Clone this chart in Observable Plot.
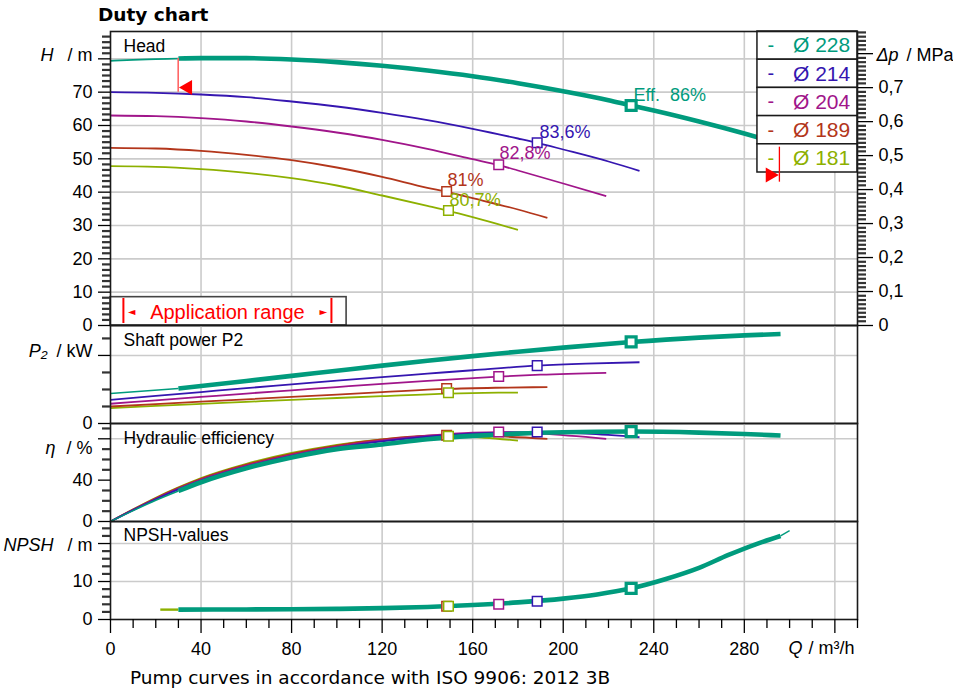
<!DOCTYPE html>
<html><head><meta charset="utf-8">
<script src="https://cdn.jsdelivr.net/npm/d3@7"></script>
<script src="https://cdn.jsdelivr.net/npm/@observablehq/plot@0.6"></script>
<style>
body{margin:0;background:#fff;}
#wrap{position:relative;width:953px;height:693px;overflow:hidden;font-family:"Liberation Sans",Arial,sans-serif;}
#title{position:absolute;left:98px;top:6px;font:bold 18.5px/1 "DejaVu Sans",Verdana,sans-serif;color:#000;}
#caption{position:absolute;left:130px;top:669px;font:18.5px/1 "DejaVu Sans",Verdana,sans-serif;color:#000;white-space:nowrap;}
</style></head><body>
<div id="wrap"><div id="title">Duty chart</div><div id="caption">Pump curves in accordance with ISO 9906: 2012 3B</div></div>
<script>
// ---------- data ----------
const diameters = [228, 214, 204, 189, 181];
const colors = ["#009b7d", "#3516b0", "#a0158a", "#b3361b", "#8db000"];
const effLabels = ["Eff.  86%", "83,6%", "82,8%", "81%", "80,7%"];
const effLabelQ = [231, 189.5, 171.8, 148.9, 149.8];
const effLabelH = [69.15, 57.9, 51.75, 43.5, 37.65];

const bepQ = [230, 188.5, 171.5, 148.5, 149.3];
const bepHead = [66.0, 54.8, 48.2, 40.2, 34.5];
const bepPower = [48.0, 34.0, 27.6, 20.6, 18.1];
const bepEff = [87.0, 86.5, 86.5, 83.5, 82.5];
const bepNpsh = [8.2, 4.8, 4.0, 3.5, 3.5];

const head228 = [[0,79.4],[10,79.7],[20,79.9],[30,80.1],[40,80.2],[60,80.2],[80,79.8],[100,79.0],[120,77.9],[140,76.5],[160,74.8],[180,72.7],[200,70.3],[220,67.6],[230,66.0],[240,64.5],[260,61.2],[280,57.6],[296,54.5]];
const head214 = [[0,70.0],[20,69.8],[40,69.3],[60,68.5],[80,67.2],[100,65.7],[120,63.8],[140,61.6],[160,59.0],[180,56.1],[188.5,54.8],[200,52.8],[220,49.2],[233.7,46.4]];
const head204 = [[0,63.0],[20,62.8],[40,62.2],[60,61.2],[80,59.7],[100,57.9],[120,55.7],[140,53.0],[160,49.9],[171.5,48.1],[180,46.5],[200,42.6],[219,38.8]];
const head189 = [[0,53.3],[20,53.1],[40,52.4],[60,51.2],[80,49.6],[100,47.4],[120,44.6],[140,41.3],[148.5,40.1],[160,38.2],[180,34.8],[193,32.3]];
const head181 = [[0,47.8],[20,47.6],[40,46.9],[60,45.8],[80,44.2],[100,42.0],[120,39.0],[140,35.9],[149.3,34.4],[160,32.5],[180,28.7]];

const power228 = [[0,17.6],[30,20.6],[60,25.0],[80,28.0],[100,31.0],[120,34.0],[140,36.9],[160,39.6],[180,42.2],[200,44.6],[230,47.9],[260,50.5],[280,51.8],[296,52.6]];
const power214 = [[0,13.9],[20,16.2],[40,18.5],[60,20.8],[80,23.0],[100,25.2],[120,27.3],[140,29.3],[160,31.3],[188.5,34.0],[210,35.2],[233.7,36.0]];
const power204 = [[0,11.6],[20,13.6],[40,15.6],[60,17.6],[80,19.5],[100,21.4],[120,23.3],[140,25.1],[171.5,27.6],[190,28.7],[219,29.8]];
const power189 = [[0,10.0],[20,11.4],[40,12.8],[60,14.2],[80,15.6],[100,17.0],[120,18.4],[148.5,20.3],[170,21.0],[193,21.4]];
const power181 = [[0,9.0],[20,10.3],[40,11.5],[60,12.7],[80,13.9],[100,15.0],[120,16.1],[149.3,17.6],[165,18.0],[180,18.2]];

const eff228 = [[0,0],[10,10.5],[20,20.5],[30,29.5],[40,38],[60,51.5],[80,62],[100,70],[120,74.5],[140,79.5],[160,82.8],[180,85],[200,86.3],[230,87],[260,86],[280,84.6],[296,83.2]];
const eff214 = [[0,0],[10,11],[20,21.5],[30,31],[40,39.5],[60,53],[80,63.5],[100,71.5],[120,77.5],[140,82],[160,85],[188.5,86.5],[210,85],[233.7,81.5]];
const eff204 = [[0,0],[10,11.3],[20,22],[30,31.8],[40,40.5],[60,54],[80,64.5],[100,72.5],[120,78.5],[140,83],[160,86],[171.5,86.5],[190,85],[219,80]];
const eff189 = [[0,0],[10,11.6],[20,22.5],[30,32.5],[40,41.3],[60,55],[80,65.5],[100,73.5],[120,79.5],[148.5,83.5],[170,82.5],[193,80]];
const eff181 = [[0,0],[10,11.8],[20,23],[30,33],[40,42],[60,55.8],[80,66.3],[100,74.2],[120,79.5],[149.3,82.5],[165,81],[180,78.3]];

const npsh = [[30,2.6],[60,2.65],[80,2.7],[100,2.8],[120,3.0],[140,3.3],[160,3.8],[180,4.5],[200,5.5],[215,6.6],[230,8.2],[245,10.6],[260,13.6],[273,17.0],[285,19.8],[296,22.0]];
const npshTail = [[296,22.0],[300,23.4]];
const npshStart181 = [[22,2.6],[30,2.6]];

const appRange = {q1: 5.7, q2: 97.6, boxQ: 104.3, boxH: 8.5};
const minFlow = {q: 29.9, h1: 70, h2: 80.1, tri: 71.4};
const maxFlow = {q: 295.5, h1: 43, h2: 53.5, tri: 45.15};

const xMajor = [0, 40, 80, 120, 160, 200, 240, 280, 320];
const xLabels = ["0", "40", "80", "120", "160", "200", "240", "280"];
const headMajor = [0, 10, 20, 30, 40, 50, 60, 70, 80];
const dpMajor = [0, 0.1, 0.2, 0.3, 0.4, 0.5, 0.6, 0.7, 0.8];
const RHO_G = 101.94; // m of water per MPa

// ---------- layout ----------
const FONT = "Liberation Sans, Arial, Helvetica, sans-serif";
const GRID = "#cbcbcb";
const FRAME = "#1a1a1a";
const X_DOMAIN = [0, 330];
const xGrid = xMajor.filter(v => v > 0);
const xMinor = d3.range(0, 331, 10).filter(v => v % 40 !== 0);
const wrap = document.getElementById("wrap");

function panel({height, top, mt, mb, yDomain, marks}) {
  const svg = Plot.plot({
    width: 953, height, marginLeft: 110, marginRight: 96, marginTop: mt, marginBottom: mb,
    x: {domain: X_DOMAIN, axis: null}, y: {domain: yDomain, axis: null},
    style: {fontFamily: FONT, fontSize: "18px", background: "transparent", overflow: "visible", color: "#000"},
    marks
  });
  svg.style.position = "absolute"; svg.style.left = "0px"; svg.style.top = top + "px";
  wrap.appendChild(svg);
}
const lineOpts = (stroke, w) => ({x: d => d[0], y: d => d[1], stroke, strokeWidth: w, curve: "monotone-x", strokeLinejoin: "round", strokeLinecap: "butt"});
function seriesMarks(list) {
  const out = [];
  for (let i = list.length - 1; i >= 1; i--) out.push(Plot.line(list[i], lineOpts(colors[i], 1.8)));
  const t = list[0];
  out.push(Plot.line(t.filter(p => p[0] <= 30), lineOpts(colors[0], 1.6)));
  out.push(Plot.line(t.filter(p => p[0] >= 30), lineOpts(colors[0], 4.6)));
  return out;
}
function markerMarks(vals) {
  return bepQ.map((q, i) => Plot.dot([[q, vals[i]]], {x: d => d[0], y: d => d[1], symbol: "square",
    r: i === 0 ? 5.6 : 5.4, fill: "white", stroke: colors[i], strokeWidth: i === 0 ? 3.2 : 1.5}));
}
function gridY(vals) { return Plot.gridY(vals, {stroke: GRID, strokeOpacity: 1, strokeWidth: 1.6}); }
const gridXMark = () => Plot.gridX(xGrid, {stroke: GRID, strokeOpacity: 1, strokeWidth: 1.6});
function leftAxis(major, fmt, minor) {
  return [
    Plot.axisY({anchor: "left", ticks: major, tickSize: 12, tickPadding: 6, tickFormat: fmt, fontSize: 18, label: null, strokeWidth: 1.3}),
    Plot.axisY({anchor: "left", ticks: minor, tickSize: 8, tickPadding: 0, tickFormat: () => "", label: null, strokeWidth: 2.2, stroke: "#333"})
  ];
}
function unitLabel(yv, italic, italicDx, rest) {
  return [
    Plot.text([yv], {y: d => d, frameAnchor: "left", dx: italicDx, textAnchor: "end", text: () => italic, fontStyle: "italic", fontSize: 18}),
    Plot.text([yv], {y: d => d, frameAnchor: "left", dx: -18, textAnchor: "end", text: () => rest, fontSize: 18})
  ];
}
function panelTitle(t, dy) {
  return Plot.text([t], {text: d => d, frameAnchor: "top-left", dx: 13, dy, textAnchor: "start", lineAnchor: "middle", fontSize: 17.5});
}
const frameMark = () => Plot.frame({stroke: FRAME, strokeWidth: 1.6});

// ---------- Head ----------
const HEAD_TOP = 88.2;
const rowH = 8.46;
const headMinor = d3.range(0, HEAD_TOP, 10 / 6).filter(v => Math.abs(v / 10 - Math.round(v / 10)) > 1e-6);
const dpMinor = d3.range(0, 0.866, 0.0125).filter(v => Math.abs(v * 10 - Math.round(v * 10)) > 1e-6);
const legendMarks = [];
diameters.forEach((d, i) => {
  const y1 = HEAD_TOP - (i + 1) * rowH, y2 = HEAD_TOP - i * rowH;
  legendMarks.push(Plot.rect([d], {x1: 285.8, x2: 330, y1: () => y1, y2: () => y2, fill: "white", stroke: FRAME, strokeWidth: 1.5}));
  legendMarks.push(Plot.text([d], {x: () => 290.2, y: () => (y1 + y2) / 2, text: () => "-", fill: colors[i], fontSize: 20, textAnchor: "start"}));
  legendMarks.push(Plot.text([d], {x: () => 301.5, y: () => (y1 + y2) / 2, text: d => "Ø " + d, fill: colors[i], fontSize: 21, textAnchor: "start"}));
});
panel({
  height: 326, top: 0, mt: 31, mb: 1, yDomain: [0, HEAD_TOP],
  marks: [
    gridXMark(), gridY(headMajor),
    Plot.rect([appRange], {x1: 0, x2: d => d.boxQ, y1: 0, y2: d => d.boxH, fill: "white", stroke: "#444", strokeWidth: 1.6}),
    Plot.ruleX([appRange.q1, appRange.q2], {x: d => d, y1: 0.6, y2: 8.1, stroke: "#ff0000", strokeWidth: 2}),
    Plot.text(["Application range"], {x: () => (appRange.q1 + appRange.q2) / 2, y: () => 3.9, text: d => d, fill: "#ff0000", fontSize: 20}),
    Plot.text(["◄"], {x: () => appRange.q1 + 3.6, y: () => 4.1, text: d => d, fill: "#ff0000", fontSize: 10, fontFamily: "DejaVu Sans"}),
    Plot.text(["►"], {x: () => appRange.q2 - 3.6, y: () => 4.1, text: d => d, fill: "#ff0000", fontSize: 10, fontFamily: "DejaVu Sans"}),
    ...seriesMarks([head228, head214, head204, head189, head181]),
    ...markerMarks(bepHead),
    ...effLabels.map((t, i) => Plot.text([t], {x: () => effLabelQ[i], y: () => effLabelH[i], text: d => d, fill: colors[i], fontSize: 18, textAnchor: "start"})),
    ...legendMarks,
    Plot.ruleX([minFlow], {x: "q", y1: "h1", y2: "h2", stroke: "#ff5c5c", strokeWidth: 1.5}),
    Plot.dot([minFlow], {x: "q", y: "tri", dx: 9.5, symbol: "triangle", rotate: -90, r: 5.6, fill: "#ff0000", stroke: "none"}),
    Plot.ruleX([maxFlow], {x: "q", y1: "h1", y2: "h2", stroke: "#ff0000", strokeWidth: 1.3}),
    Plot.dot([maxFlow], {x: "q", y: "tri", dx: -9.3, symbol: "triangle", rotate: 90, r: 5.6, fill: "#ff0000", stroke: "none"}),
    frameMark(),
    ...leftAxis(headMajor, d => d >= 80 ? "" : String(d), headMinor),
    Plot.axisY({anchor: "right", ticks: dpMajor.map(p => p * RHO_G), tickSize: 15, tickPadding: 6,
      tickFormat: h => { const p = Math.round(h / RHO_G * 10) / 10; return p >= 0.8 ? "" : String(p).replace(".", ","); },
      fontSize: 18, label: null, strokeWidth: 1.3}),
    Plot.axisY({anchor: "right", ticks: dpMinor.map(p => p * RHO_G), tickSize: 8, tickPadding: 0, tickFormat: () => "", label: null, strokeWidth: 2.2, stroke: "#333"}),
    ...unitLabel(81, "H", -57, "/ m"),
    Plot.text([81], {y: d => d, frameAnchor: "right", dx: 19, textAnchor: "start", text: () => "Δp", fontStyle: "italic", fontSize: 18}),
    Plot.text([81], {y: d => d, frameAnchor: "right", dx: 49, textAnchor: "start", text: () => "/ MPa", fontSize: 18}),
    panelTitle("Head", 15)
  ]
});

// ---------- Shaft power ----------
panel({
  height: 104, top: 320, mt: 5, mb: 1, yDomain: [0, 57.6],
  marks: [
    gridXMark(), gridY([40]),
    ...seriesMarks([power228, power214, power204, power189, power181]),
    ...markerMarks(bepPower),
    frameMark(),
    ...leftAxis([0, 40], d => d === 0 ? "0" : "", [10, 20, 30, 50]),
    ...unitLabel(42.4, "P₂", -63, "/ kW"),
    panelTitle("Shaft power P2", 15)
  ]
});

// ---------- Hydraulic efficiency ----------
panel({
  height: 104, top: 418, mt: 5, mb: 1, yDomain: [0, 94.8],
  marks: [
    gridXMark(), gridY([80]),
    ...seriesMarks([eff228, eff214, eff204, eff189, eff181]),
    ...markerMarks(bepEff),
    frameMark(),
    ...leftAxis([0, 40, 80], d => d === 80 ? "" : String(d), [10, 20, 30, 50, 60, 70, 90]),
    ...unitLabel(70.6, "η", -55, "/ %"),
    panelTitle("Hydraulic efficiency", 15)
  ]
});

// ---------- NPSH ----------
panel({
  height: 163, top: 516, mt: 5, mb: 60, yDomain: [0, 25.8],
  marks: [
    gridXMark(), gridY([10, 20]),
    Plot.line(npshStart181, lineOpts(colors[4], 2.4)),
    Plot.line(npshTail, lineOpts(colors[0], 1.4)),
    Plot.line(npsh, lineOpts(colors[0], 4.6)),
    ...markerMarks(bepNpsh),
    frameMark(),
    ...leftAxis([0, 10, 20], d => d === 20 ? "" : String(d), [2, 4, 6, 8, 12, 14, 16, 18, 22, 24]),
    ...unitLabel(19.5, "NPSH", -57, "/ m"),
    Plot.axisX({anchor: "bottom", ticks: xMajor, tickSize: 14, tickPadding: 8.5, tickFormat: (d, i) => xLabels[i] ?? "", fontSize: 18, label: null, strokeWidth: 1.3}),
    Plot.axisX({anchor: "bottom", ticks: xMinor, tickSize: 9, tickPadding: 0, tickFormat: () => "", label: null, strokeWidth: 1.3}),
    Plot.text([299.5], {x: d => d, frameAnchor: "bottom", dy: 29, lineAnchor: "middle", textAnchor: "start", text: () => "Q", fontStyle: "italic", fontSize: 18}),
    Plot.text([308.4], {x: d => d, frameAnchor: "bottom", dy: 29, lineAnchor: "middle", textAnchor: "start", text: () => "/ m³/h", fontSize: 18}),
    panelTitle("NPSH-values", 14)
  ]
});
</script>
</body></html>
